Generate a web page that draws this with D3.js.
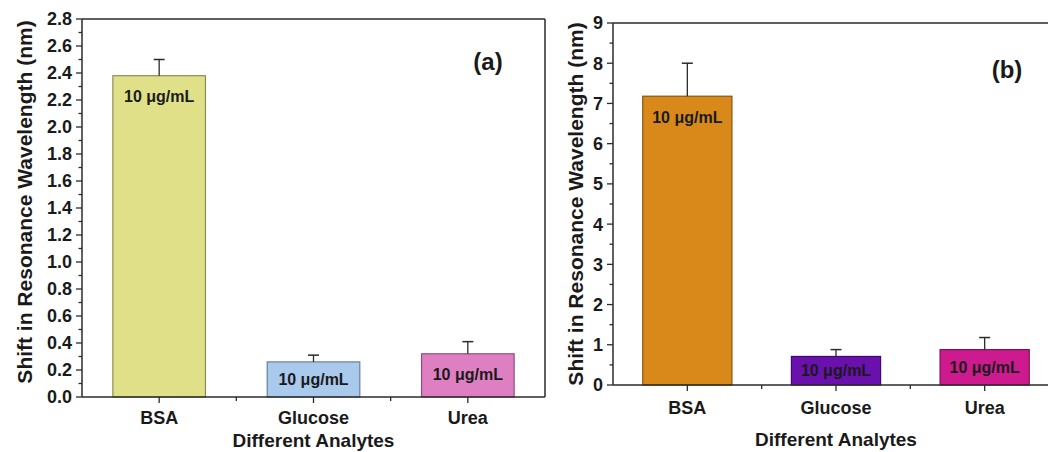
<!DOCTYPE html>
<html>
<head>
<meta charset="utf-8">
<script src="https://cdn.jsdelivr.net/npm/d3@7"></script>
<style>
  body { margin: 0; background: #fff; }
  svg { display: block; font-family: Arial, "Liberation Sans", sans-serif; }
</style>
</head>
<body>
<script>
// data
const analytes = ["BSA", "Glucose", "Urea"];
const shiftA = [2.38, 0.26, 0.32];
const errA = [0.12, 0.05, 0.09];
const shiftB = [7.18, 0.71, 0.88];
const errB = [0.82, 0.17, 0.30];
const fillA = ["#dfe088", "#a9c9ed", "#de7fc1"];
const fillB = ["#d8891a", "#6a10ad", "#cd1a8e"];
const concLabel = "10 μg/mL";
const xTitle = "Different Analytes";
const yTitle = "Shift in Resonance Wavelength (nm)";

const svg = d3.select("body").append("svg")
  .attr("width", 1048)
  .attr("height", 452);

const axisColor = "#2b2b2b";
const textColor = "#1a1a1a";

function drawPanel(opt) {
  const g = svg.append("g");

  const x = d3.scaleBand()
    .domain(analytes)
    .range([opt.left, opt.right])
    .padding(0);

  const y = d3.scaleLinear()
    .domain([0, opt.yMax])
    .range([opt.bottom, opt.top]);

  const bw = x.bandwidth() * 0.6;

  // frame lines (top / right)
  g.append("line")
    .attr("x1", opt.left).attr("x2", opt.frameRight)
    .attr("y1", opt.top).attr("y2", opt.top)
    .attr("stroke", axisColor).attr("stroke-width", 1.5);
  if (opt.drawRight) {
    g.append("line")
      .attr("x1", opt.right).attr("x2", opt.right)
      .attr("y1", opt.top).attr("y2", opt.bottom)
      .attr("stroke", axisColor).attr("stroke-width", 1.5);
  }

  // bars
  g.selectAll("rect.bar")
    .data(opt.values)
    .enter().append("rect")
    .attr("class", "bar")
    .attr("x", (d, i) => x(analytes[i]) + (x.bandwidth() - bw) / 2)
    .attr("y", d => y(d))
    .attr("width", bw)
    .attr("height", d => opt.bottom - y(d))
    .attr("fill", (d, i) => opt.fills[i])
    .attr("stroke", (d, i) => d3.color(opt.fills[i]).darker(1.3))
    .attr("stroke-width", 1.2);

  // error bars (upper half)
  const cx = i => x(analytes[i]) + x.bandwidth() / 2;
  opt.values.forEach((v, i) => {
    g.append("line")
      .attr("x1", cx(i)).attr("x2", cx(i))
      .attr("y1", y(v)).attr("y2", y(v + opt.errs[i]))
      .attr("stroke", axisColor).attr("stroke-width", 1.3);
    g.append("line")
      .attr("x1", cx(i) - 5.5).attr("x2", cx(i) + 5.5)
      .attr("y1", y(v + opt.errs[i])).attr("y2", y(v + opt.errs[i]))
      .attr("stroke", axisColor).attr("stroke-width", 1.5);
  });

  // concentration labels inside bars
  g.selectAll("text.conc")
    .data(opt.values)
    .enter().append("text")
    .attr("class", "conc")
    .attr("x", (d, i) => cx(i))
    .attr("y", d => y(d) + Math.min(21, (opt.bottom - y(d)) / 2))
    .attr("dy", "0.35em")
    .attr("text-anchor", "middle")
    .style("font-size", "16px")
    .style("font-weight", "bold")
    .attr("fill", textColor)
    .text(concLabel);

  // y axis with minor ticks
  const minor = d3.range(0, opt.yMax + 1e-9, opt.minorStep);
  g.append("line")
    .attr("x1", opt.left).attr("x2", opt.left)
    .attr("y1", opt.top).attr("y2", opt.bottom)
    .attr("stroke", axisColor).attr("stroke-width", 1.5);

  g.selectAll("line.ytick")
    .data(minor)
    .enter().append("line")
    .attr("class", "ytick")
    .attr("x1", opt.left)
    .attr("x2", (d, i) => opt.left - (i % 2 === 0 ? 6 : 3.5))
    .attr("y1", d => y(d)).attr("y2", d => y(d))
    .attr("stroke", axisColor).attr("stroke-width", 1.3);

  g.selectAll("text.ylab")
    .data(minor.filter((d, i) => i % 2 === 0))
    .enter().append("text")
    .attr("class", "ylab")
    .attr("x", opt.left - 10)
    .attr("y", d => y(d))
    .attr("dy", "0.36em")
    .attr("text-anchor", "end")
    .style("font-size", "18px")
    .style("font-weight", "bold")
    .attr("fill", textColor)
    .text(d => d3.format(opt.fmt)(d));

  // x axis
  g.append("line")
    .attr("x1", opt.left).attr("x2", opt.frameRight)
    .attr("y1", opt.bottom).attr("y2", opt.bottom)
    .attr("stroke", axisColor).attr("stroke-width", 1.5);

  const xAxis = d3.axisBottom(x).tickSize(6).tickPadding(opt.xPad);
  const xg = g.append("g")
    .attr("transform", `translate(0,${opt.bottom})`)
    .call(xAxis);
  xg.select(".domain").remove();
  xg.selectAll(".tick line").attr("stroke", axisColor).attr("stroke-width", 1.3);
  xg.selectAll(".tick text")
    .style("font-size", "18px")
    .style("font-weight", "bold")
    .attr("fill", textColor);

  // minor ticks at band edges
  g.selectAll("line.xminor")
    .data(analytes.slice(1))
    .enter().append("line")
    .attr("class", "xminor")
    .attr("x1", d => x(d)).attr("x2", d => x(d))
    .attr("y1", opt.bottom).attr("y2", opt.bottom + 4)
    .attr("stroke", axisColor).attr("stroke-width", 1.3);

  // titles
  g.append("text")
    .attr("x", x("Glucose") + x.bandwidth() / 2)
    .attr("y", opt.xTitleY)
    .attr("text-anchor", "middle")
    .style("font-size", "19px")
    .style("font-weight", "bold")
    .attr("fill", textColor)
    .text(xTitle);

  g.append("text")
    .attr("transform", `translate(${opt.yTitleX},${opt.yTitleMid}) rotate(-90)`)
    .attr("text-anchor", "middle")
    .style("font-size", "21px")
    .style("font-weight", "bold")
    .attr("fill", textColor)
    .text(yTitle);

  g.append("text")
    .attr("x", opt.tagX)
    .attr("y", opt.tagY)
    .attr("text-anchor", "middle")
    .style("font-size", "24px")
    .style("font-weight", "bold")
    .attr("fill", textColor)
    .text(opt.tag);
}

drawPanel({
  values: shiftA, errs: errA, fills: fillA,
  left: 82, right: 545, frameRight: 545, drawRight: true,
  top: 19, bottom: 397, yMax: 2.8, minorStep: 0.1, fmt: ".1f", xPad: 8,
  xTitleY: 447, yTitleX: 32, yTitleMid: 202,
  tag: "(a)", tagX: 488, tagY: 70
});

drawPanel({
  values: shiftB, errs: errB, fills: fillB,
  left: 613, right: 1059, frameRight: 1048, drawRight: false,
  top: 23, bottom: 385, yMax: 9, minorStep: 0.5, fmt: "d", xPad: 10.5,
  xTitleY: 446, yTitleX: 583, yTitleMid: 204,
  tag: "(b)", tagX: 1007, tagY: 78
});
</script>
</body>
</html>
